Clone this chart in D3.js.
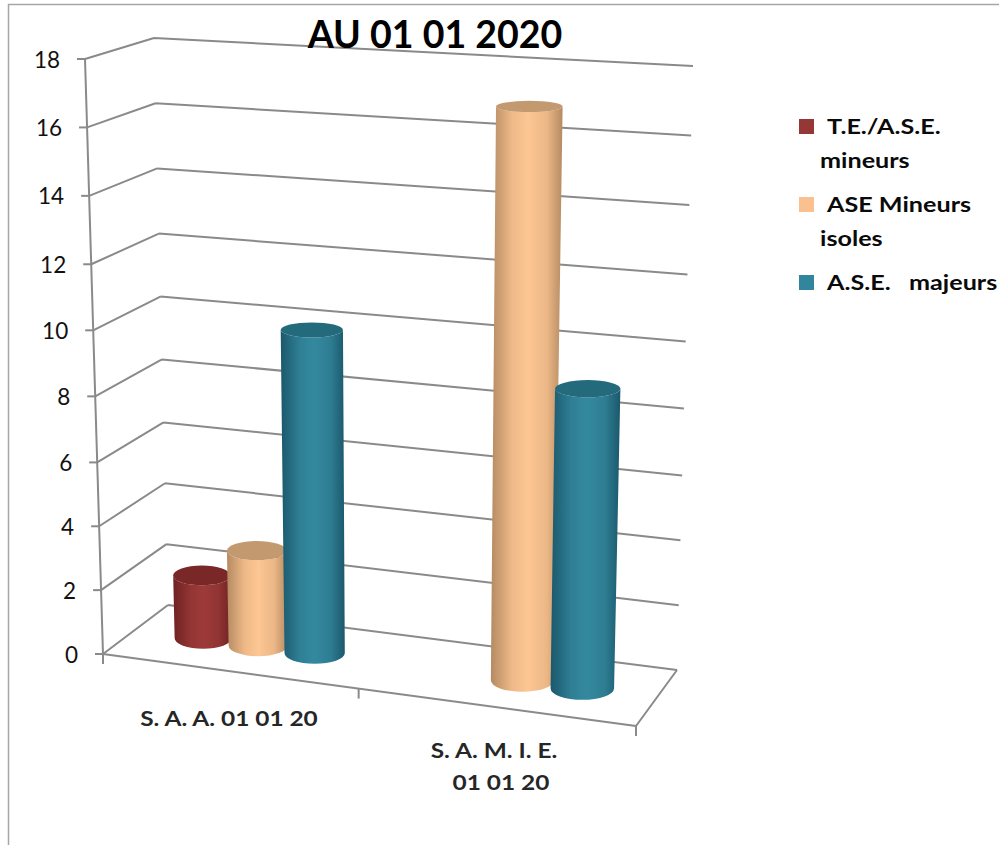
<!DOCTYPE html>
<html>
<head>
<meta charset="utf-8">
<title>AU 01 01 2020</title>
<script src="https://cdn.jsdelivr.net/npm/d3@7"></script>
<style>
  html, body { margin: 0; padding: 0; background: #fff; }
  svg { display: block; }
  text { font-family: Lato, "Noto Sans", sans-serif; white-space: pre; }
</style>
</head>
<body>
<svg id="chart" width="999" height="845"></svg>
<script>
// Chart content
const chartTitle = "AU 01 01 2020";
const categories = ["S. A. A. 01 01 20", "S. A. M. I. E.|01 01 20"];
const seriesNames = ["T.E./A.S.E.|mineurs", "ASE Mineurs|isoles", "A.S.E.   majeurs"];
const teMineurs = [2, 0];
const aseIsoles = [3, 17];
const aseMajeurs = [10, 9];
const yTicks = [0, 2, 4, 6, 8, 10, 12, 14, 16, 18];

// Shades per series: side edge, side centre, top cap, legend key
const edgeColors = ["#6f2222", "#b58a62", "#1b586c"];
const midColors = ["#9c3a39", "#fdc692", "#34899f"];
const capColors = ["#7a2727", "#c39a70", "#236a7d"];
const keyColors = ["#953735", "#fac090", "#31859c"];
const seriesValues = [teMineurs, aseIsoles, aseMajeurs];

// The eight corners of the plot box: [front|back][left|right][bottom|top]
const box = {
  flb: [103, 654], flt: [85, 59],
  blb: [168, 605], blt: [154, 38],
  brb: [677, 670], brt: [693, 66],
  frb: [636, 726], frt: [651, 93]
};

// Foreshortening along width and height of the box
const widthScale = d3.scalePow().exponent(1.06).domain([0, 1]).range([0, 1]);
const heightScale = d3.scaleLinear().domain([0, 6, 12, 18]).range([0, 0.322, 0.655, 1]);

// Places (u across, value up, z into the depth) on the page
function project(u, value, z) {
  const s = widthScale(u), t = heightScale(value);
  const mix = (a, b, k) => [a[0] + (b[0] - a[0]) * k, a[1] + (b[1] - a[1]) * k];
  const bottom = mix(mix(box.flb, box.frb, s), mix(box.blb, box.brb, s), z);
  const top = mix(mix(box.flt, box.frt, s), mix(box.blt, box.brt, s), z);
  return mix(bottom, top, t);
}

const outerBand = d3.scaleBand().domain(d3.range(categories.length)).range([0, 1])
  .paddingInner(0.34).paddingOuter(0.17);
const innerBand = d3.scaleBand().domain(d3.range(seriesNames.length)).range([0, outerBand.bandwidth()]);

const svg = d3.select("#chart");

// Widens a label horizontally, the way the chart's stretched lettering reads
function stretch(selection, factor) {
  selection.each(function () {
    const node = this;
    node.setAttribute("lengthAdjust", "spacingAndGlyphs");
    node.setAttribute("textLength", node.getComputedTextLength() * factor);
  });
}

// Gradients across the cylinder sides
const defs = svg.append("defs");
seriesNames.forEach((_, i) => {
  const g = defs.append("linearGradient").attr("id", "side" + i)
    .attr("x1", 0).attr("x2", 1).attr("y1", 0).attr("y2", 0);
  g.append("stop").attr("offset", "0%").attr("stop-color", edgeColors[i]);
  g.append("stop").attr("offset", "30%").attr("stop-color", d3.interpolateRgb(edgeColors[i], midColors[i])(0.8));
  g.append("stop").attr("offset", "52%").attr("stop-color", midColors[i]);
  g.append("stop").attr("offset", "78%").attr("stop-color", d3.interpolateRgb(edgeColors[i], midColors[i])(0.75));
  g.append("stop").attr("offset", "100%").attr("stop-color", edgeColors[i]);
});

// Outer frame (top and left sides)
svg.append("path").attr("d", "M8.5,845V4.5H999").attr("fill", "none")
  .attr("stroke", "#a6a6a6").attr("stroke-width", 1.5);

const gridColor = "#8a8a8a";
const segment = (a, b) => `M${a[0]},${a[1]}L${b[0]},${b[1]}`;

// Grid on the side and back walls
const grid = svg.append("g").attr("fill", "none").attr("stroke", gridColor).attr("stroke-width", 2);
grid.selectAll(".wall").data(yTicks).join("path").attr("class", "wall")
  .attr("d", v => segment(project(0, v, 0), project(0, v, 1)) + segment(project(0, v, 1), project(1, v, 1)));

// Floor outline, vertical axis and tick marks
grid.append("path").attr("d", segment(project(0, 0, 0), project(1, 0, 0)) + segment(project(1, 0, 0), project(1, 0, 1)));
grid.append("path").attr("d", segment(project(0, 0, 0), project(0, 18, 0)));
grid.selectAll(".ytick").data(yTicks).join("path").attr("class", "ytick")
  .attr("d", v => { const p = project(0, v, 0); return segment([p[0] - 8, p[1]], p); });
grid.selectAll(".xtick").data(d3.range(categories.length + 1)).join("path").attr("class", "xtick")
  .attr("d", i => { const p = project(i / categories.length, 0, 0); return segment(p, [p[0], p[1] + 10]); });

// Value labels
svg.selectAll(".ylabel").data(yTicks).join("text").attr("class", "ylabel")
  .attr("x", v => project(0, v, 0)[0] - 25)
  .attr("y", v => project(0, v, 0)[1] + 8.5)
  .attr("text-anchor", "end").attr("font-size", 22.5).attr("fill", "#111")
  .text(v => v);

// Cylinders, drawn left to right so each one overlaps the previous
const halfWidth = 0.058, halfDepth = 0.21, barShift = 0.005;
const bars = [];
categories.forEach((_, c) => seriesValues.forEach((vals, s) => {
  if (vals[c] > 0) bars.push({ s, value: vals[c], u: outerBand(c) + innerBand(s) + innerBand.bandwidth() / 2 + barShift });
}));

function ring(d, v) {
  const l = project(d.u - halfWidth, v, 0.5), r = project(d.u + halfWidth, v, 0.5);
  const c = project(d.u, v, 0.5);
  const ry = Math.abs(project(d.u, v, 0.5 - halfDepth)[1] - project(d.u, v, 0.5 + halfDepth)[1]) / 2;
  return { xl: l[0], xr: r[0], y: c[1], rx: (r[0] - l[0]) / 2, ry };
}

const barGroups = svg.selectAll(".bar").data(bars).join("g").attr("class", "bar");
barGroups.append("path").attr("fill", d => `url(#side${d.s})`).attr("d", d => {
  const b = ring(d, 0), t = ring(d, d.value);
  return `M${t.xl},${t.y}L${b.xl},${b.y}A${b.rx},${b.ry} 0 0 0 ${b.xr},${b.y}L${t.xr},${t.y}A${t.rx},${t.ry} 0 0 1 ${t.xl},${t.y}Z`;
});
barGroups.append("ellipse").attr("fill", d => capColors[d.s])
  .attr("cx", d => { const t = ring(d, d.value); return (t.xl + t.xr) / 2; })
  .attr("cy", d => ring(d, d.value).y)
  .attr("rx", d => ring(d, d.value).rx)
  .attr("ry", d => ring(d, d.value).ry);

// Category labels, one line after another
const categoryLines = [
  { x: 229, y: 726 },
  { x: 494, y: 758 },
  { x: 501, y: 790 }
];
const categoryRows = categories.flatMap(d => d.split("|"));
svg.selectAll(".cat").data(categoryRows).join("text").attr("class", "cat")
  .attr("x", (d, i) => categoryLines[i].x)
  .attr("y", (d, i) => categoryLines[i].y)
  .attr("font-size", 20.5).attr("font-weight", 700).attr("fill", "#262626").attr("text-anchor", "middle")
  .text(d => d)
  .call(stretch, 1.19);

// Title
svg.append("text").attr("x", 435).attr("y", 48).attr("text-anchor", "middle")
  .attr("font-size", 37.5).attr("font-weight", 700).attr("fill", "#000").text(chartTitle);

// Legend
const legendRows = [134, 212, 290];
const legend = svg.selectAll(".key").data(seriesNames).join("g").attr("class", "key");
legend.append("rect").attr("x", 799).attr("y", (d, i) => legendRows[i] - 15)
  .attr("width", 15).attr("height", 15).attr("fill", (d, i) => keyColors[i]);
legend.each(function (d, i) {
  d.split("|").forEach((line, k) => {
    d3.select(this).append("text")
      .attr("x", k ? 820 : 827)
      .attr("y", legendRows[i] + k * 34)
      .attr("font-size", 21.5).attr("font-weight", 700).attr("fill", "#0a0a0a")
      .text(line)
      .call(stretch, 1.17);
  });
});
</script>
</body>
</html>
